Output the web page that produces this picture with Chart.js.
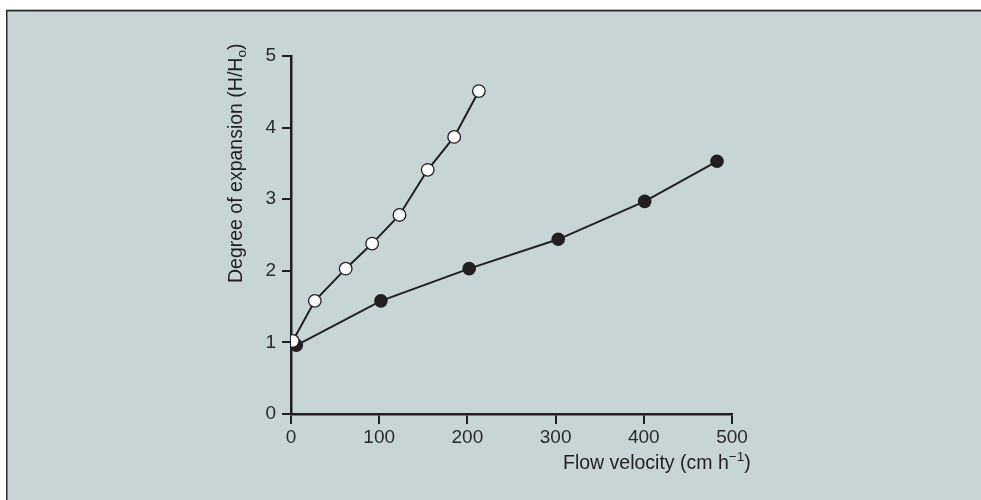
<!DOCTYPE html>
<html>
<head>
<meta charset="utf-8">
<script src="https://cdn.jsdelivr.net/npm/chart.js@4.4.0/dist/chart.umd.min.js"></script>
<style>
html,body{margin:0;padding:0;background:#fff;}
#wrap{width:981px;height:500px;position:relative;}
</style>
</head>
<body>
<div id="wrap"><canvas id="c" width="981" height="500"></canvas></div>
<script>
// Open circles series
const openX = [2, 27, 62, 92, 123, 155, 185, 213];
const openY = [1.02, 1.58, 2.03, 2.38, 2.78, 3.41, 3.87, 4.51];
// Filled circles series
const filledX = [6, 102, 202, 303, 401, 483];
const filledY = [0.96, 1.58, 2.03, 2.44, 2.97, 3.53];
// Axis ticks
const xTicks = [0, 100, 200, 300, 400, 500];
const yTicks = [0, 1, 2, 3, 4, 5];

const INK = '#231f20';
const FONT = '"Liberation Sans", Arial, sans-serif';

const panelPlugin = {
  id: 'panel',
  beforeDraw(chart) {
    const ctx = chart.ctx;
    ctx.save();
    ctx.fillStyle = '#ffffff';
    ctx.fillRect(0, 0, chart.width, chart.height);
    ctx.fillStyle = '#c7d5d6';
    ctx.fillRect(6, 10, chart.width - 6, chart.height - 10);
    ctx.fillStyle = '#b8b8b8';
    ctx.fillRect(6, 9, chart.width - 6, 1);
    ctx.fillStyle = '#2b2b2b';
    ctx.fillRect(6, 10, chart.width - 6, 1.5);
    ctx.fillRect(6, 10, 1.5, chart.height - 10);
    ctx.restore();
  },
  afterDraw(chart) {
    const ctx = chart.ctx;
    ctx.save();
    ctx.fillStyle = INK;
    ctx.textBaseline = 'alphabetic';
    ctx.textAlign = 'left';
    // Y title (rotated)
    const main = '19.5px ' + FONT;
    const small = '13.5px ' + FONT;
    ctx.translate(242, 283);
    ctx.rotate(-Math.PI / 2);
    ctx.font = main;
    let t1 = 'Degree of expansion (H/H';
    ctx.fillText(t1, 0, 0);
    let w = ctx.measureText(t1).width;
    ctx.font = small;
    ctx.fillText('o', w, 4);
    w += ctx.measureText('o').width;
    ctx.font = main;
    ctx.fillText(')', w, 0);
    ctx.restore();

    // X title
    ctx.save();
    ctx.fillStyle = INK;
    ctx.textBaseline = 'alphabetic';
    ctx.textAlign = 'left';
    let x = 563, y = 469;
    ctx.font = main;
    let s1 = 'Flow velocity (cm h';
    ctx.fillText(s1, x, y);
    x += ctx.measureText(s1).width;
    ctx.font = small;
    ctx.fillText('\u22121', x, y - 8);
    x += ctx.measureText('\u22121').width;
    ctx.font = main;
    ctx.fillText(')', x, y);
    ctx.restore();
  }
};

new Chart(document.getElementById('c'), {
  type: 'scatter',
  data: {
    datasets: [
      {
        label: 'open',
        data: openX.map((v, i) => ({x: v, y: openY[i]})),
        showLine: true,
        borderColor: INK,
        borderWidth: 2,
        pointRadius: 6.3,
        pointBorderWidth: 1.3,
        pointBackgroundColor: '#ffffff',
        pointBorderColor: INK,
        tension: 0
      },
      {
        label: 'filled',
        data: filledX.map((v, i) => ({x: v, y: filledY[i]})),
        showLine: true,
        borderColor: INK,
        borderWidth: 2,
        pointRadius: 6.8,
        pointBorderWidth: 0,
        pointBackgroundColor: INK,
        pointBorderColor: INK,
        tension: 0
      }
    ]
  },
  options: {
    responsive: false,
    animation: false,
    events: [],
    layout: {padding: {left: 0, right: 249, top: 56, bottom: 0}},
    plugins: {legend: {display: false}, tooltip: {enabled: false}},
    scales: {
      x: {
        type: 'linear',
        min: 0, max: 500,
        afterFit(s) { s.height = 86; },
        afterBuildTicks(s) { s.ticks = xTicks.map(v => ({value: v})); },
        grid: {drawOnChartArea: false, drawTicks: true, tickLength: 10, color: INK, lineWidth: 2},
        border: {display: true, color: INK, width: 2.5},
        ticks: {color: '#2a2a2a', font: {family: FONT, size: 19}, padding: 2, maxRotation: 0}
      },
      y: {
        type: 'linear',
        min: 0, max: 5,
        afterFit(s) { s.width = 291; },
        afterBuildTicks(s) { s.ticks = yTicks.map(v => ({value: v})); },
        grid: {drawOnChartArea: false, drawTicks: true, tickLength: 9, color: INK, lineWidth: 2},
        border: {display: true, color: INK, width: 2.5},
        ticks: {color: '#2a2a2a', font: {family: FONT, size: 19}, padding: 6}
      }
    }
  },
  plugins: [panelPlugin]
});
</script>
</body>
</html>
